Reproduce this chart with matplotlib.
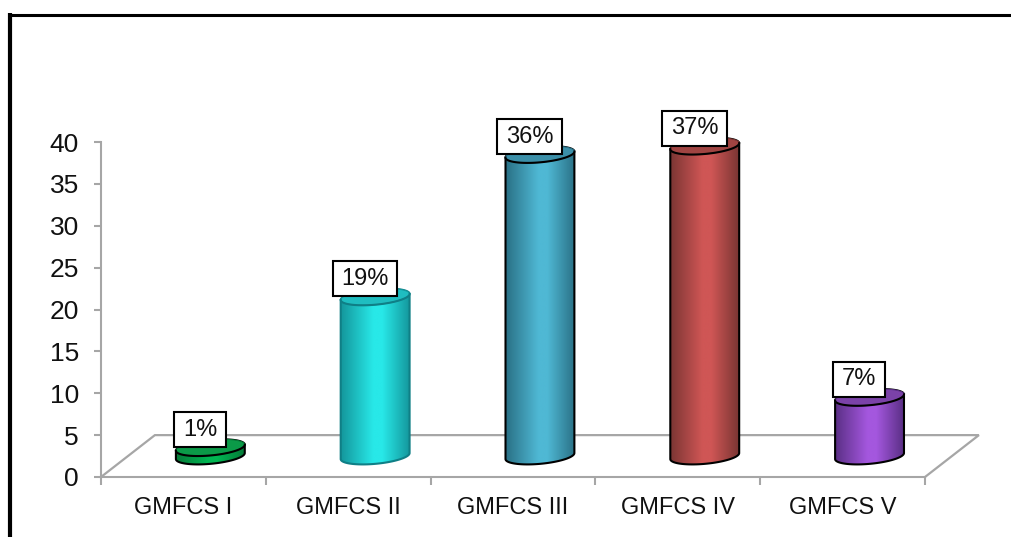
import numpy as np
import matplotlib
matplotlib.use("Agg")
import matplotlib.pyplot as plt
from matplotlib.patches import PathPatch
from matplotlib.path import Path
from matplotlib.lines import Line2D
from matplotlib.colors import LinearSegmentedColormap

plt.rcParams["font.family"] = ["Liberation Sans", "DejaVu Sans"]

# Data
categories = ["GMFCS I", "GMFCS II", "GMFCS III", "GMFCS IV", "GMFCS V"]
values = [1, 19, 36, 37, 7]
labels = ["1%", "19%", "36%", "37%", "7%"]
yticks = [0, 5, 10, 15, 20, 25, 30, 35, 40]

# (dark edge, light middle, top face, outline)
colors = [
    ("#067A38", "#00B652", "#0B9A48", "#000000"),
    ("#14979C", "#28E8E8", "#1FBDC0", "#0F7F86"),
    ("#2A7186", "#4FB8D4", "#3B8FA8", "#000000"),
    ("#7A3533", "#CF5655", "#A04442", "#000000"),
    ("#5A2F85", "#A457DE", "#7B42A8", "#000000"),
]

W, H = 1011, 537
fig = plt.figure(figsize=(W / 100, H / 100), dpi=100)
ax = fig.add_axes([101 / W, 1 - 477 / H, 824 / W, 335 / H])
ax.set_xlim(0, 5)
ax.set_ylim(0, 40)

gray = "#A6A6A6"
depth_x, depth_y = 0.327, 5  # floor depth in data units
half_w = 0.209
ell_b, ell_k = 0.93, 0.36


def ellipse_xy(cx, cy, t):
    return cx + half_w * np.cos(t), cy + ell_b * np.sin(t) + ell_k * np.cos(t)


# label box: wider than tall padding, which boxstyle "square" can't do
def label_box(x0, y0, width, height, size):
    px, py = 0.36 * size, 0.28 * size
    x0, x1 = x0 - px, x0 + width + px
    y0, y1 = y0 - py, y0 + height + py
    return Path([(x0, y0), (x1, y0), (x1, y1), (x0, y1), (x0, y0)], closed=True)


# Floor
ax.plot([0, depth_x, 5 + depth_x, 5], [0, depth_y, depth_y, 0], color=gray, lw=1.6,
        clip_on=False, zorder=1, solid_joinstyle="miter")

for i, (v, c) in enumerate(zip(values, colors)):
    cx = i + 0.5 + depth_x / 2
    base = depth_y / 2
    top = v + base
    dark, light, top_col, edge = c

    # cylinder body: upper half of the top outline, then lower half of the base
    xt, yt = ellipse_xy(cx, top, np.linspace(0, np.pi, 60))
    xb, yb = ellipse_xy(cx, base, np.linspace(np.pi, 2 * np.pi, 60))
    xs = np.r_[xt, xb, xt[0]]
    ys = np.r_[yt, yb, yt[0]]
    body = PathPatch(Path(np.c_[xs, ys]), facecolor="none", edgecolor=edge, lw=1.5,
                     zorder=3, clip_on=False)
    ax.add_patch(body)

    cmap = LinearSegmentedColormap.from_list(
        "c", [(0, dark), (0.47, light), (0.6, light), (1, dark)], N=256)
    grad = np.linspace(0, 1, 256)[None, :]
    im = ax.imshow(grad, extent=[cx - half_w, cx + half_w, base - 2, top + 2], cmap=cmap,
                   aspect="auto", zorder=2, interpolation="bilinear")
    im.set_clip_box(fig.bbox)
    im.set_clip_path(body)

    # top face, the near rim is drawn heavier than the far one
    xe, ye = ellipse_xy(cx, top, np.linspace(0, 2 * np.pi, 120))
    ax.fill(xe, ye, facecolor=top_col, edgecolor=dark, lw=0.8, zorder=4, clip_on=False)
    xn, yn = ellipse_xy(cx, top, np.linspace(np.pi, 2 * np.pi, 60))
    ax.plot(xn, yn, color=edge, lw=1.5, zorder=4, clip_on=False)

    ax.annotate(labels[i], (cx, top), xytext=(-7.5, 13), textcoords="offset points",
                ha="center", va="center", fontsize=17, color="#111111", zorder=5,
                bbox=dict(boxstyle=label_box, facecolor="white", edgecolor="black", lw=1.5))

ax.set_ylim(0, 40)
ax.set_xlim(0, 5)

for s in ["top", "right"]:
    ax.spines[s].set_visible(False)
for s in ["left", "bottom"]:
    ax.spines[s].set_color(gray)
    ax.spines[s].set_linewidth(1.5)
ax.patch.set_visible(False)

ax.set_yticks(yticks)
ax.tick_params(axis="y", labelsize=19, length=5, width=1.5, color=gray, pad=11, labelcolor="#111111")
ax.set_xticks(range(6))
ax.set_xticklabels([])
ax.set_xticks(np.arange(5) + 0.5, categories, minor=True)
ax.tick_params(axis="x", which="major", length=6, width=1.5, color=gray)
ax.tick_params(axis="x", which="minor", length=0, labelsize=17, pad=14.5, labelcolor="#111111")

# outer frame: top and left only
fig.add_artist(Line2D([8 / W, 1], [1 - 14.5 / H, 1 - 14.5 / H], color="black", lw=2.2,
                      solid_capstyle="butt"))
fig.add_artist(Line2D([10.3 / W, 10.3 / W], [0, 1 - 13 / H], color="black", lw=3,
                      solid_capstyle="butt"))

fig.savefig("out.png", dpi=100)
